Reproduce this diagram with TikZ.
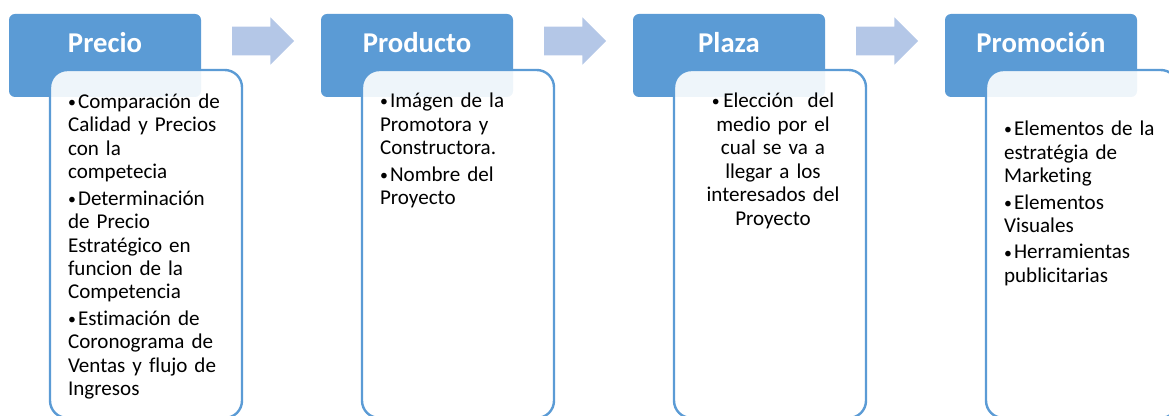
\documentclass[tikz,border=0pt]{standalone}
\usepackage{graphicx}
\usepackage{fontspec}
\setmainfont{Carlito}[Ligatures=NoCommon]
\usetikzlibrary{shapes.arrows,calc}
\definecolor{azul}{RGB}{91,155,213}
\definecolor{azulclaro}{RGB}{180,199,231}
\newcommand{\punto}{\raisebox{0.6pt}{\scalebox{0.75}{\textbullet}}}
\newcommand{\vineta}[1]{\noindent\hangindent=7.5pt\hangafter=1\makebox[7.5pt][l]{\punto}#1\par}
\begin{document}
\begin{tikzpicture}[x=0.75pt,y=-0.75pt,
  cabecera/.style={fill=azul,rounded corners=4.5pt,minimum width=144pt,minimum height=62.25pt,inner sep=0pt},
  titulo/.style={text=white,font=\fontsize{21.5}{24}\selectfont\bfseries,inner sep=0pt,anchor=base},
  caja/.style={draw=azul,line width=1.8pt,fill=white,fill opacity=0.9,rounded corners=13pt,minimum width=144pt,minimum height=261pt,inner sep=0pt},
  lista/.style={font=\fontsize{15.8}{17.6}\selectfont,text width=135pt,align=left,inner sep=0pt,anchor=base west,execute at begin node=\setlength{\parskip}{2.2pt}},
  flecha/.style={single arrow,fill=azulclaro,minimum height=46.5pt,inner xsep=0pt,inner ysep=10.5pt,single arrow head extend=7.1pt}]
\useasboundingbox (0,0) rectangle (1169,416);
\node[flecha] (a1) at (256,41) {};
\node[flecha] (a2) at (568,41) {};
\node[flecha] (a3) at (880,41) {};
\node[cabecera] (h1) at (105,55.5) {};
\node[cabecera] (h2) at (417,55.5) {};
\node[cabecera] (h3) at (729,55.5) {};
\node[cabecera] (h4) at (1041,55.5) {};
\node[titulo] (t1) at ([yshift=1.9pt]h1.center) {Precio};
\node[titulo] (t2) at ([yshift=1.9pt]h2.center) {Producto};
\node[titulo] (t3) at ([yshift=1.9pt]h3.center) {Plaza};
\node[titulo] (t4) at ([yshift=1.9pt]h4.center) {Promoción};
\node[caja] (c1) at (146,244) {};
\node[caja] (c2) at (458,244) {};
\node[caja] (c3) at (770,244) {};
\node[caja] (c4) at (1082,244) {};
\node[lista] (l1) at ($(c1.north west)+(19,39.5)$) {%
  \vineta{Comparación de\\Calidad y Precios\\con la\\competecia}
  \vineta{Determinación\\de Precio\\Estratégico en\\funcion de la\\Competencia}
  \vineta{Estimación de\\Coronograma de\\Ventas y flujo de\\Ingresos}};
\node[lista] (l2) at ($(c2.north west)+(19,39)$) {%
  \vineta{Imágen de la\\Promotora y\\Constructora.}
  \vineta{Nombre del\\Proyecto}};
\node[lista,align=center,anchor=base] (l3) at ($(c3.north)+(3,39)$) {%
  \punto\,Elección\ \ del\\medio por el\\cual se va a\\llegar a los\\interesados del\\Proyecto};
\node[lista] (l4) at ($(c4.north west)+(19,67)$) {%
  \vineta{Elementos de la\\estratégia de\\Marketing}
  \vineta{Elementos\\Visuales}
  \vineta{Herramientas\\publicitarias}};
\end{tikzpicture}
\end{document}
